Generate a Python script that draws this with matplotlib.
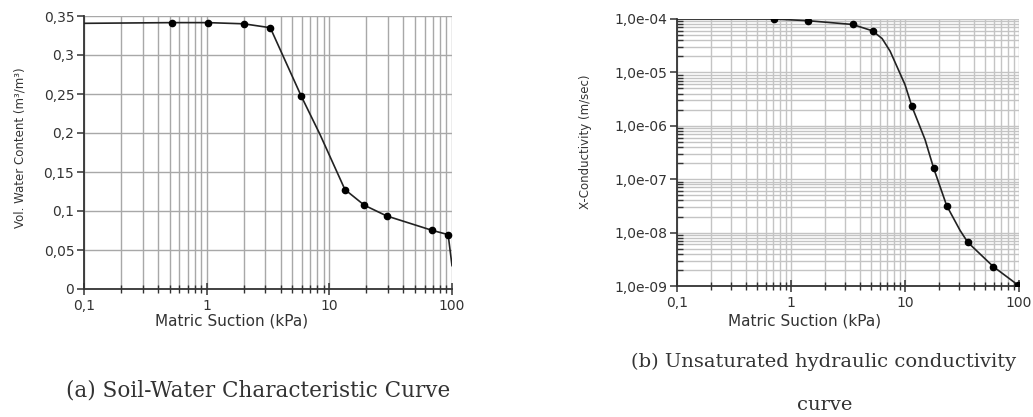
import numpy as np
import matplotlib.pyplot as plt
from matplotlib.ticker import FixedLocator, FixedFormatter, LogLocator, NullFormatter

# (a) soil-water characteristic curve
swcc_suction = [0.1, 0.52, 1.03, 2.0, 3.3, 5.9, 8.4, 13.4, 19.3, 29.3, 68.5, 93.0, 100.0]
swcc_theta = [0.3406, 0.3415, 0.3415, 0.340, 0.335, 0.2473, 0.198, 0.1275, 0.1074, 0.0937, 0.0753, 0.0697, 0.030]
swcc_pts_suction = [0.52, 1.03, 2.0, 3.3, 5.9, 13.4, 19.3, 29.3, 68.5, 93.0]
swcc_pts_theta = [0.3415, 0.3415, 0.340, 0.335, 0.2473, 0.1275, 0.1074, 0.0937, 0.0753, 0.0697]

# (b) hydraulic conductivity curve
k_suction = [0.1, 0.71, 1.40, 3.47, 5.19, 6.3, 7.4, 10.0, 11.5, 15.0, 17.8, 23.2, 30.4, 35.5, 59.6, 97.5]
k_cond = [1e-4, 1e-4, 9.3e-5, 7.9e-5, 6.0e-5, 4.3e-5, 2.5e-5, 5.9e-6, 2.3e-6, 5.5e-7, 1.63e-7, 3.2e-8,
          1.1e-8, 6.6e-9, 2.3e-9, 1.05e-9]
k_pts_suction = [0.71, 1.40, 3.47, 5.19, 11.5, 17.8, 23.2, 35.5, 59.6, 97.5]
k_pts_cond = [1e-4, 9.3e-5, 7.9e-5, 6.0e-5, 2.3e-6, 1.63e-7, 3.2e-8, 6.6e-9, 2.3e-9, 1.05e-9]

x_ticks = [0.1, 1, 10, 100]
x_ticklabels = ['0,1', '1', '10', '100']
theta_ticks = [0, 0.05, 0.1, 0.15, 0.2, 0.25, 0.3, 0.35]
theta_ticklabels = ['0', '0,05', '0,1', '0,15', '0,2', '0,25', '0,3', '0,35']
k_ticks = [1e-9, 1e-8, 1e-7, 1e-6, 1e-5, 1e-4]
k_ticklabels = ['1,0e-09', '1,0e-08', '1,0e-07', '1,0e-06', '1,0e-05', '1,0e-04']

plt.rcParams['font.family'] = ['DejaVu Sans']

fig = plt.figure(figsize=(10.33, 4.17), dpi=100)
ax1 = fig.add_axes([84 / 1033, 1 - 289 / 417, 368 / 1033, 273 / 417])
ax2 = fig.add_axes([677 / 1033, 1 - 286 / 417, 342 / 1033, 267 / 417])

line_color = '#222222'

for ax in (ax1, ax2):
    ax.set_xscale('log')
    ax.set_xlim(0.1, 100)
    ax.xaxis.set_major_locator(FixedLocator(x_ticks))
    ax.xaxis.set_major_formatter(FixedFormatter(x_ticklabels))
    ax.xaxis.set_minor_locator(LogLocator(base=10, subs=np.arange(2, 10)))
    ax.xaxis.set_minor_formatter(NullFormatter())
    for s in ('top', 'right'):
        ax.spines[s].set_visible(False)
    for s in ('left', 'bottom'):
        ax.spines[s].set_linewidth(1.3)
        ax.spines[s].set_color('#333333')
    ax.tick_params(axis='x', which='major', direction='inout', length=8, width=1.1, pad=3,
                   labelsize=10, colors='#333333')
    ax.tick_params(axis='x', which='minor', direction='inout', length=6, width=1.0, colors='#333333')
    ax.tick_params(axis='y', which='major', direction='out', length=5, width=1.1, pad=2,
                   labelsize=10, colors='#333333')
    ax.set_axisbelow(True)

# left chart
ax1.plot(swcc_suction, swcc_theta, color=line_color, lw=1.2, zorder=3)
ax1.plot(swcc_pts_suction, swcc_pts_theta, 'o', color='black', ms=4.5, zorder=4)
ax1.set_ylim(0, 0.35)
ax1.yaxis.set_major_locator(FixedLocator(theta_ticks))
ax1.yaxis.set_major_formatter(FixedFormatter(theta_ticklabels))
ax1.grid(True, which='both', axis='x', color='#a8a8a8', lw=1.0)
ax1.grid(True, which='major', axis='y', color='#a8a8a8', lw=1.0)

# right chart
ax2.set_yscale('log')
ax2.plot(k_suction, k_cond, color=line_color, lw=1.2, zorder=3)
ax2.plot(k_pts_suction, k_pts_cond, 'o', color='black', ms=4.5, zorder=4)
ax2.set_ylim(1e-9, 1e-4)
ax2.yaxis.set_major_locator(FixedLocator(k_ticks))
ax2.yaxis.set_major_formatter(FixedFormatter(k_ticklabels))
ax2.yaxis.set_minor_locator(LogLocator(base=10, subs=np.arange(2, 10), numticks=20))
ax2.yaxis.set_minor_formatter(NullFormatter())
ax2.tick_params(axis='y', which='minor', direction='in', length=4, width=1.0, colors='#333333')
ax2.grid(True, which='both', color='#c4c4c4', lw=1.0)

# axis titles
fig.text(20 / 1033, 1 - 148 / 417, 'Vol. Water Content (m³/m³)', rotation=90,
         ha='center', va='center', fontsize=8.5, color='#333333')
fig.text(585 / 1033, 1 - 142 / 417, 'X-Conductivity (m/sec)', rotation=90,
         ha='center', va='center', fontsize=8.5, color='#333333')
fig.text(232 / 1033, 1 - 321 / 417, 'Matric Suction (kPa)', ha='center', va='center',
         fontsize=11, color='#333333')
fig.text(805 / 1033, 1 - 321 / 417, 'Matric Suction (kPa)', ha='center', va='center',
         fontsize=11, color='#333333')

# captions
fig.text(258 / 1033, 1 - 391 / 417, '(a) Soil-Water Characteristic Curve', ha='center', va='center',
         fontsize=15.5, family='DejaVu Serif', color='#333333')
fig.text(824 / 1033, 1 - 362 / 417, '(b) Unsaturated hydraulic conductivity', ha='center',
         va='center', fontsize=14, family='DejaVu Serif', color='#333333')
fig.text(825 / 1033, 1 - 405 / 417, 'curve', ha='center', va='center',
         fontsize=14, family='DejaVu Serif', color='#333333')

fig.savefig('out.png', dpi=100)
